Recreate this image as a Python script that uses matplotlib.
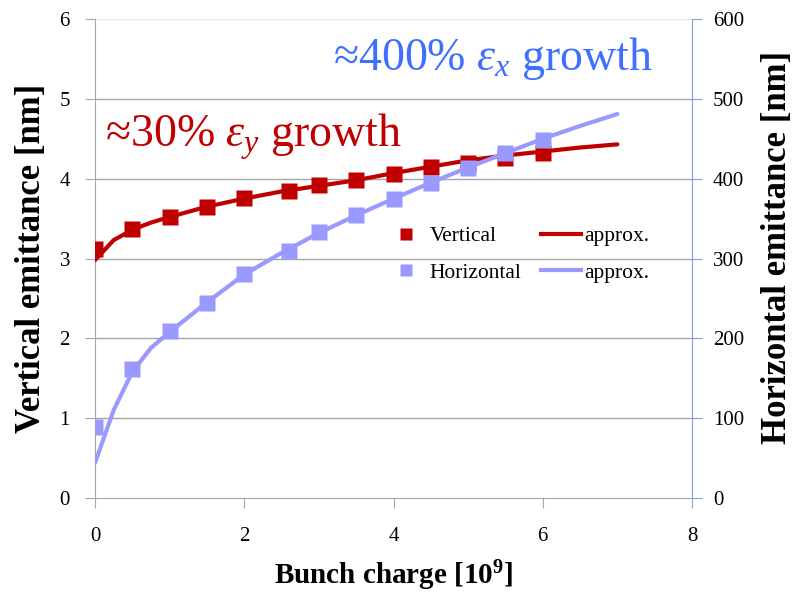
import matplotlib
matplotlib.use("Agg")
import matplotlib.pyplot as plt
from matplotlib.lines import Line2D

plt.rcParams['font.family'] = ['Liberation Serif', 'DejaVu Serif']
plt.rcParams['mathtext.fontset'] = 'custom'
plt.rcParams['mathtext.rm'] = 'Liberation Serif'
plt.rcParams['mathtext.it'] = 'Liberation Serif:italic'
plt.rcParams['mathtext.bf'] = 'Liberation Serif:bold'

# measured data
charge = [0, 0.5, 1, 1.5, 2, 2.6, 3, 3.5, 4, 4.5, 5, 5.5, 6]
vertical = [3.12, 3.37, 3.52, 3.65, 3.76, 3.85, 3.92, 3.98, 4.06, 4.15, 4.19, 4.26, 4.32]
horizontal = [89, 162, 209, 244, 281, 310, 333, 355, 374, 395, 413, 432, 449]

# approximation curves
approx_x = [0, 0.25, 0.5, 0.75, 1, 1.5, 2, 2.5, 3, 3.5, 4, 4.5, 5, 5.5, 6, 6.5, 7]
approx_v = [2.98, 3.23, 3.36, 3.45, 3.52, 3.65, 3.75, 3.84, 3.91, 3.98, 4.07, 4.15, 4.23, 4.29, 4.34, 4.39, 4.43]
approx_h = [44, 110, 158, 188, 208, 245, 280, 307, 332, 354, 375, 395, 414, 432, 450, 466, 481]

xticks = [0, 2, 4, 6, 8]
yticks_left = [0, 1, 2, 3, 4, 5, 6]
yticks_right = [0, 100, 200, 300, 400, 500, 600]

RED = '#C00000'
BLUE = '#9999FF'
TXTBLUE = '#3F6FFF'
SPINEBLUE = '#7DA2D8'
GRID = '#A6A6A6'

fig = plt.figure(figsize=(7.93, 5.92), dpi=100)
ax = fig.add_axes([95/793, 94/592, 597/793, 479/592])
ax2 = ax.twinx()

ax.set_xlim(0, 8)
ax.set_ylim(0, 6)
ax2.set_ylim(0, 600)

# grid
for v in yticks_left[1:-1]:
    ax.axhline(v, color=GRID, lw=1.0, zorder=0)
ax.axhline(6, color='#E6E6E6', lw=1.0, zorder=0)

for s in ['top', 'right']:
    ax.spines[s].set_visible(False)
for s in ['top', 'left', 'bottom']:
    ax2.spines[s].set_visible(False)
ax.spines['left'].set_color(GRID)
ax.spines['bottom'].set_color(GRID)
ax2.spines['right'].set_color(SPINEBLUE)

ax.set_xticks(xticks)
ax.set_yticks(yticks_left)
ax2.set_yticks(yticks_right)
ax.tick_params(axis='x', direction='out', length=7, color=GRID, labelsize=15, pad=14)
ax.tick_params(axis='y', direction='out', length=7, color=GRID, labelsize=15, pad=11)
ax2.tick_params(axis='y', direction='out', length=7, color=SPINEBLUE, labelsize=15, pad=8)

ax.set_xlabel(r'Bunch charge [10$^{\mathbf{9}}$]', fontsize=21, fontweight='bold', labelpad=9)
ax.set_ylabel('Vertical emittance [nm]', fontsize=25, fontweight='bold', labelpad=8)
ax2.set_ylabel('Horizontal emittance [nm]', fontsize=25, fontweight='bold', labelpad=12)
ax2.yaxis.label.set_y(0.524)

# curves: red on lower axes, blue on upper axes
ax.plot(approx_x, approx_v, color=RED, lw=3, zorder=3, solid_capstyle='round')
ax.plot(charge, vertical, ls='none', marker='s', ms=12, color=RED, mec='none', zorder=4)
ax2.plot(approx_x, approx_h, color=BLUE, lw=3, zorder=3, solid_capstyle='round')
ax2.plot(charge, horizontal, ls='none', marker='s', ms=12, color=BLUE, mec='none', zorder=4)

ax2.patch.set_visible(False)

handles = [
    Line2D([], [], ls='none', marker='s', ms=8, color=RED, mec='none'),
    Line2D([], [], ls='none', marker='s', ms=8, color=BLUE, mec='none'),
    Line2D([], [], color=RED, lw=3),
    Line2D([], [], color=BLUE, lw=3),
]
labels = ['Vertical', 'Horizontal', 'approx.', 'approx.']
ax2.legend(handles, labels, ncol=2, frameon=False, fontsize=15.5,
           loc='upper left', bbox_to_anchor=(0.473, 0.585),
           handlelength=1.86, handletextpad=0.15, columnspacing=0.92,
           labelspacing=0.75, borderaxespad=0, handleheight=0.7)

ax.text(0.017, 0.733, r'≈30% $\varepsilon_y$ growth', transform=ax.transAxes,
        color=RED, fontsize=33, ha='left', va='baseline')
ax.text(0.399, 0.894, r'≈400% $\varepsilon_x$ growth', transform=ax.transAxes,
        color=TXTBLUE, fontsize=33, ha='left', va='baseline')

fig.savefig('out.png', dpi=100)
